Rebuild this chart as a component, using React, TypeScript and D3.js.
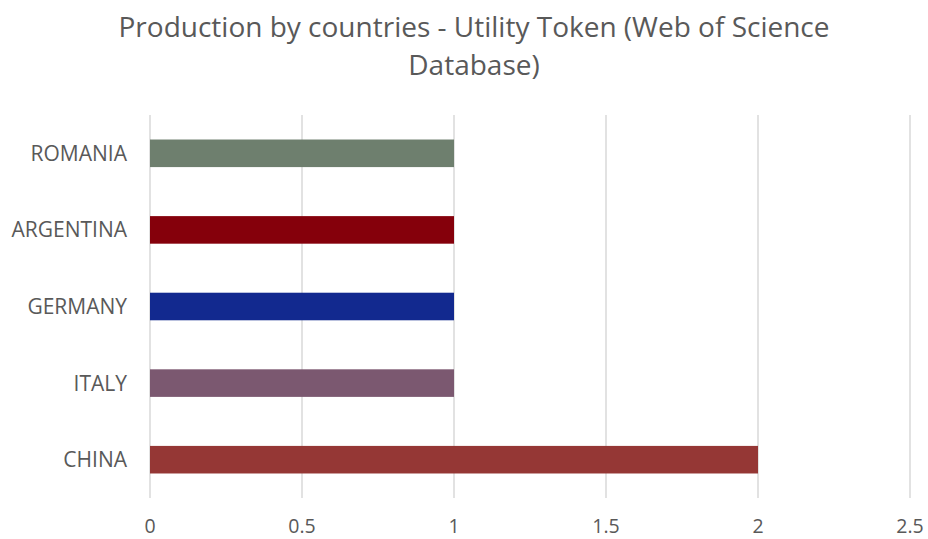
import React from "react";
import * as d3 from "d3";

const countries = ["ROMANIA", "ARGENTINA", "GERMANY", "ITALY", "CHINA"];
const values = [1, 1, 1, 1, 2];
const colors = ["#6E7F6E", "#85000B", "#12298F", "#7B5870", "#953735"];
const ticks = [0, 0.5, 1, 1.5, 2, 2.5];
const titleLines = ["Production by countries - Utility Token (Web of Science", "Database)"];

const W = 928, H = 539;
const left = 150, right = 910, top = 115, bottom = 498;

export default function App() {
  const x = d3.scaleLinear().domain([0, 2.5]).range([left, right]);
  const y = d3.scaleBand<string>().domain(countries).range([top, bottom]).paddingInner(0.64).paddingOuter(0.32);
  const font = "'Open Sans', sans-serif";
  return (
    <svg width={W} height={H} style={{ position: "fixed", left: 0, top: 0, background: "#fff" }} fontFamily={font}>
      <rect width={W} height={H} fill="#fff" />
      {titleLines.map((t, i) => (
        <text key={i} x={474} y={37 + i * 38} textAnchor="middle" fontSize={28} fill="#595959">{t}</text>
      ))}
      {ticks.map((t) => (
        <line key={t} x1={x(t)} x2={x(t)} y1={top} y2={bottom} stroke="#D9D9D9" strokeWidth={1.5} />
      ))}
      {countries.map((c, i) => (
        <rect key={c} x={x(0)} y={y(c)!} width={x(values[i]) - x(0)} height={y.bandwidth()} fill={colors[i]} />
      ))}
      {countries.map((c) => (
        <text key={c} x={127} y={y(c)! + y.bandwidth() / 2} dy="0.36em" textAnchor="end" fontSize={21} fill="#595959">{c}</text>
      ))}
      {ticks.map((t) => (
        <text key={t} x={x(t)} y={533} textAnchor="middle" fontSize={19.5} fill="#595959">{d3.format("~g")(t)}</text>
      ))}
    </svg>
  );
}
